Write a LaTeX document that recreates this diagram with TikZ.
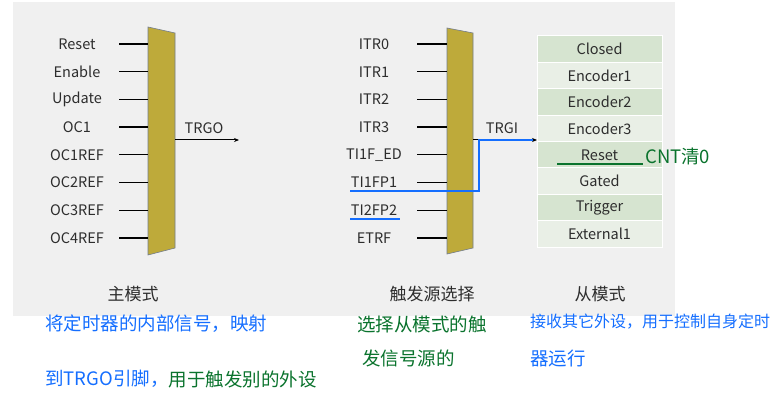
\documentclass[tikz,border=0pt]{standalone}
\usepackage{fontspec}
\setmainfont{Noto Sans CJK SC}
\usetikzlibrary{arrows.meta,positioning}
\definecolor{bggray}{RGB}{240,240,240}
\definecolor{muxgold}{RGB}{190,170,58}
\definecolor{muxedge}{RGB}{115,125,140}
\definecolor{rowdark}{RGB}{214,228,208}
\definecolor{rowlight}{RGB}{233,239,230}
\definecolor{noteblue}{RGB}{20,110,255}
\definecolor{notegreen}{RGB}{10,115,45}
\definecolor{txtgray}{RGB}{45,45,45}

\tikzset{
  sig/.style={font=\fontsize{14.5}{16}\selectfont, text=txtgray, inner sep=0pt},
  wire/.style={line width=1.2pt, black},
  mux/.style={fill=muxgold, draw=muxedge, line width=0.6pt},
  moderow/.style={minimum width=125pt, minimum height=26.4pt, draw=white, line width=1pt, inner sep=0pt, font=\fontsize{14.5}{16}\selectfont, text=txtgray},
  caption/.style={font=\fontsize{17}{19}\selectfont, text=txtgray},
  note/.style={font=\fontsize{18.5}{20}\selectfont, anchor=west, inner sep=0pt},
  penline/.style={line width=1.6pt}
}

\begin{document}
\begin{tikzpicture}[x=1pt,y=-1pt]
\useasboundingbox (0,0) rectangle (783,403);
\fill[bggray] (13,2) rectangle (675,316);

% master mode mux
\draw[mux] (148,27) coordinate (ma) -- (175,33) coordinate (mb) -- (175,248) coordinate (mc) -- (148,255) coordinate (md) -- cycle;
\foreach \name [count=\i] in {Reset,Enable,Update,OC1,OC1REF,OC2REF,OC3REF,OC4REF} {
  \pgfmathsetmacro\yy{44+27.7*(\i-1)}
  \node[sig] (min\i) at (77,\yy) {\name};
  \coordinate (mis\i) at (119,\yy);
  \coordinate (mie\i) at (148,\yy);
  \draw[wire] (mis\i) -- (mie\i);
}
\coordinate (trgoA) at (175,140);
\coordinate (trgoB) at (239,140);
\draw[wire, line width=1pt, -{Stealth[length=5pt,width=4pt]}] (trgoA) -- (trgoB);
\node[sig] (trgo) at (204,128) {TRGO};

% trigger source mux
\draw[mux] (447,28) -- (473,33) -- (473,248) -- (447,254) -- cycle;
\foreach \name [count=\i] in {ITR0,ITR1,ITR2,ITR3,TI1F\_ED,TI1FP1,TI2FP2,ETRF} {
  \pgfmathsetmacro\yy{44+27.7*(\i-1)}
  \node[sig] (tin\i) at (374,\yy) {\name};
  \coordinate (tis\i) at (417,\yy);
  \coordinate (tie\i) at (447,\yy);
  \draw[wire] (tis\i) -- (tie\i);
}
\coordinate (trgiA) at (473,140);
\coordinate (trgiB) at (537,140);
\draw[wire, line width=1pt, -{Stealth[length=5pt,width=4pt]}] (trgiA) -- (trgiB);
\node[sig] (trgi) at (502,128) {TRGI};

% slave mode table
\foreach \name [count=\i] in {Closed,Encoder1,Encoder2,Encoder3,Reset,Gated,Trigger,External1} {
  \pgfmathsetmacro\yy{36+13.2+26.4*(\i-1)}
  \pgfmathparse{isodd(\i)}
  \ifnum\pgfmathresult=1 \def\rowfill{rowdark}\else\def\rowfill{rowlight}\fi
  \node[moderow, fill=\rowfill] (row\i) at (599.5,\yy) {\name};
}

% captions
\node[caption] (capm) at (133,294) {主模式};
\node[caption] (capt) at (432,294) {触发源选择};
\node[caption] (caps) at (600,294) {从模式};

% blue marks
\coordinate (bl1) at (350,191);
\coordinate (bl2) at (479,191);
\coordinate (bl3) at (479,140);
\coordinate (bl4) at (533,140);
\draw[penline, noteblue] (bl1) -- (bl2) -- (bl3) -- (bl4);
\draw[penline, noteblue] (350,219) -- (400,219);
\draw[penline, notegreen] (557,164) -- (643,164);
\node[note, text=notegreen] (cnt) at (645,156) {CNT清0};

% notes
\node[note, text=noteblue] (n1) at (45,324) {将定时器的内部信号，映射};
\node[note, text=noteblue] (n2) at (45,379) {到TRGO引脚，};
\node[note, text=notegreen, right=0pt of n2] (n3) {用于触发别的外设};
\node[note, text=notegreen] (n4) at (357,324) {选择从模式的触};
\node[note, text=notegreen] (n5) at (362,358) {发信号源的};
\node[note, text=noteblue, font=\fontsize{16}{18}\selectfont] (n6) at (530,322) {接收其它外设，用于控制自身定时};
\node[note, text=noteblue] (n7) at (530,358) {器运行};
\end{tikzpicture}
\end{document}
